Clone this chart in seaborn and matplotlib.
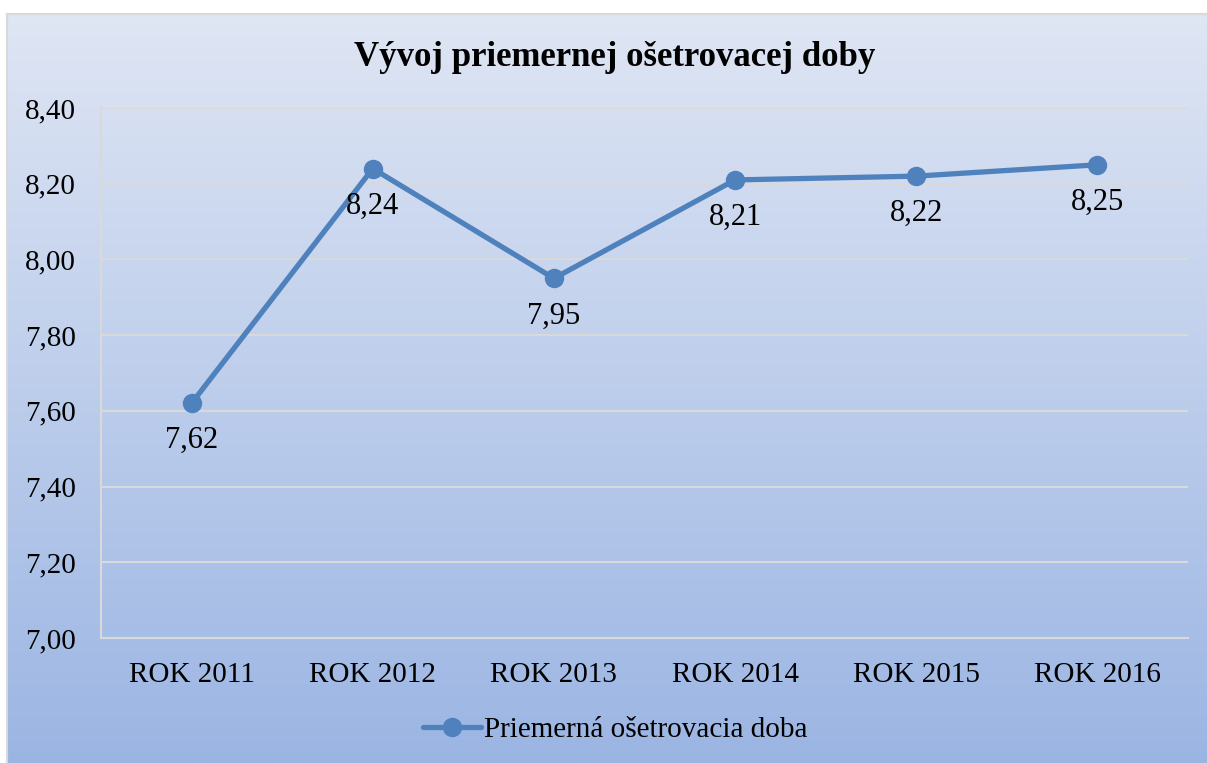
import numpy as np
import pandas as pd
import matplotlib
matplotlib.use('Agg')
import matplotlib.pyplot as plt
import seaborn as sns

# data
years = ['ROK 2011', 'ROK 2012', 'ROK 2013', 'ROK 2014', 'ROK 2015', 'ROK 2016']
avg_days = [7.62, 8.24, 7.95, 8.21, 8.22, 8.25]
y_ticks = [7.00, 7.20, 7.40, 7.60, 7.80, 8.00, 8.20, 8.40]
series_name = 'Priemerná ošetrovacia doba'
title = 'Vývoj priemernej ošetrovacej doby'

sns.set_style('white')
plt.rcParams['font.family'] = ['Liberation Serif', 'DejaVu Serif']
plt.rcParams['text.color'] = 'black'
plt.rcParams['xtick.color'] = 'black'
plt.rcParams['ytick.color'] = 'black'

W, H = 1207, 763
fig = plt.figure(figsize=(W / 100, H / 100), dpi=100)

# gradient chart background with thin border
bg = fig.add_axes([7 / W, 0, (W - 7) / W, (H - 14) / H])
top = np.array([223, 230, 244]) / 255
bottom = np.array([155, 181, 227]) / 255
t = np.linspace(0, 1, 256)[:, None]
grad = top[None, :] * (1 - t) + bottom[None, :] * t
bg.imshow(grad[:, None, :], aspect='auto', extent=[0, 1, 0, 1])
bg.set_xticks([])
bg.set_yticks([])
for side, s in bg.spines.items():
    s.set_color('#d9d9d9')
    s.set_linewidth(1.5)
    if side in ('right', 'bottom'):
        s.set_visible(False)

# main plot area
ax = fig.add_axes([101 / W, 1 - 638 / H, 1087 / W, 530 / H])
ax.patch.set_alpha(0)

df = pd.DataFrame({'year': years, 'value': avg_days})
df['pos'] = range(len(years))
sns.lineplot(data=df, x='pos', y='value', ax=ax, color='#4f81bd', linewidth=3.8,
             marker='o', markersize=14, markeredgewidth=0, label=series_name)

for x, v in zip(df['pos'], avg_days):
    ax.annotate(f'{v:.2f}'.replace('.', ','), xy=(x, v), xytext=(0, -27),
                textcoords='offset points', ha='center', va='center', fontsize=22)

ax.set_xlim(-0.5, len(years) - 0.5)
ax.set_ylim(7.0, 8.4)
ax.set_xticks(range(len(years)))
ax.set_xticklabels(years, fontsize=21)
ax.set_yticks(y_ticks)
ax.set_yticklabels([f'{v:.2f}'.replace('.', ',') for v in y_ticks], fontsize=21)
ax.tick_params(axis='both', length=0)
ax.tick_params(axis='y', pad=18)
ax.tick_params(axis='x', pad=17)
ax.set_xlabel('')
ax.set_ylabel('')
ax.grid(axis='y', color='#d9d9d9', linewidth=1.5)
ax.grid(axis='x', visible=False)
for side in ['top', 'right']:
    ax.spines[side].set_visible(False)
for side in ['left', 'bottom']:
    ax.spines[side].set_color('#d9d9d9')
    ax.spines[side].set_linewidth(1.5)

ax.get_legend().remove()
handles, labels = ax.get_legend_handles_labels()
fig.legend(handles, labels, loc='center', bbox_to_anchor=(615 / W, 1 - 730 / H),
           frameon=False, fontsize=21, handlelength=2.0, handletextpad=0.1)

fig.text(615 / W, 1 - 58 / H, title, ha='center', va='center', fontsize=25, fontweight='bold')

fig.savefig('out.png', dpi=100)
plt.close(fig)
